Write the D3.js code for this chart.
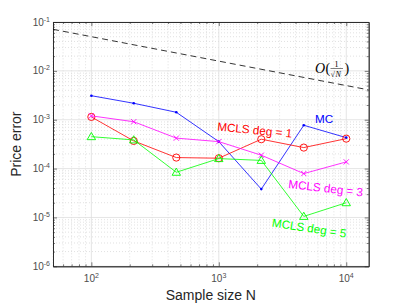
<!DOCTYPE html>
<html lang="en">
<head>
    <meta charset="utf-8">
    <title>Price error vs sample size</title>
    <script src="https://cdnjs.cloudflare.com/ajax/libs/d3/7.8.5/d3.min.js"></script>
    <style>
        html, body {margin: 0;padding: 0;background: #fff;}
        svg {display: block;font-family: "Liberation Sans", Arial, Helvetica, sans-serif;}
        .tick-label {font-size: 10px;fill: #4d4d4d;}
        .axis-title {font-size: 14px;fill: #262626;}
        .series-label {font-size: 11.7px;}
    </style>
</head>
<body>
<div id="chart"></div>
<script>
  // sample sizes (logspace 10^2 .. 10^4, 7 points)
  var sampleSizes = [100, 215, 464, 1000, 2154, 4642, 10000];

  // price error per method
  var errMC   = [3.1e-3, 2.17e-3, 1.42e-3, 3.56e-4, 3.8e-5, 7.7e-4, 4.3e-4];
  var errDeg1 = [1.14e-3, 3.68e-4, 1.68e-4, 1.63e-4, 3.99e-4, 2.69e-4, 4.1e-4];
  var errDeg3 = [1.2e-3, 9.1e-4, 4.2e-4, 3.56e-4, 1.88e-4, 7.9e-5, 1.37e-4];
  var errDeg5 = [4.5e-4, 3.86e-4, 8.4e-5, 1.6e-4, 1.47e-4, 1.05e-5, 2.0e-5];

  // O(1/sqrt(N)) reference line end points
  var refN   = [50, 15000];
  var refErr = [0.0708, 0.00408];

  var xTicks = [1e2, 1e3, 1e4];
  var xTickExp = ['2', '3', '4'];
  var yTicks = [1e-6, 1e-5, 1e-4, 1e-3, 1e-2, 1e-1];
  var yTickExp = ['-6', '-5', '-4', '-3', '-2', '-1'];

  var W = 407, H = 305;
  var m = {left: 53, right: 38.3, top: 22, bottom: 38.7};

  var svg = d3.select('#chart').append('svg')
    .attr('width', W).attr('height', H);

  var x = d3.scaleLog().domain([50, 15000]).range([m.left, W - m.right]);
  var y = d3.scaleLog().domain([1e-6, 1e-1]).range([H - m.bottom, m.top]);

  var x0 = x.range()[0], x1 = x.range()[1], y0 = y.range()[0], y1 = y.range()[1];

  // minor tick values
  var xMinor = [], yMinor = [];
  [10, 100, 1000, 10000].forEach(function (d) {
    for (var k = 2; k <= 9; k++) {
      var v = d * k;
      if (v >= 50 && v <= 15000) xMinor.push(v);
    }
  });
  yTicks.slice(0, -1).forEach(function (d) {
    for (var k = 2; k <= 9; k++) yMinor.push(d * k);
  });

  var grid = svg.append('g');
  // minor grid (dotted)
  grid.selectAll('.xm').data(xMinor).join('line')
    .attr('x1', d => x(d)).attr('x2', d => x(d)).attr('y1', y0).attr('y2', y1)
    .attr('stroke', '#cccccc').attr('stroke-width', 0.6).attr('stroke-dasharray', '1,2');
  grid.selectAll('.ym').data(yMinor).join('line')
    .attr('y1', d => y(d)).attr('y2', d => y(d)).attr('x1', x0).attr('x2', x1)
    .attr('stroke', '#cccccc').attr('stroke-width', 0.6).attr('stroke-dasharray', '1,2');
  // major grid
  grid.selectAll('.xM').data(xTicks).join('line')
    .attr('x1', d => x(d)).attr('x2', d => x(d)).attr('y1', y0).attr('y2', y1)
    .attr('stroke', '#dedede').attr('stroke-width', 0.8);
  grid.selectAll('.yM').data(yTicks).join('line')
    .attr('y1', d => y(d)).attr('y2', d => y(d)).attr('x1', x0).attr('x2', x1)
    .attr('stroke', '#dedede').attr('stroke-width', 0.8);

  // axes box with inward ticks on all four sides
  var axisColor = '#262626';
  var axes = [
    d3.axisBottom(x).tickValues(xTicks).tickSizeInner(-4).tickSizeOuter(0).tickFormat(''),
    d3.axisTop(x).tickValues(xTicks).tickSizeInner(-4).tickSizeOuter(0).tickFormat(''),
    d3.axisLeft(y).tickValues(yTicks).tickSizeInner(-4).tickSizeOuter(0).tickFormat(''),
    d3.axisRight(y).tickValues(yTicks).tickSizeInner(-4).tickSizeOuter(0).tickFormat('')
  ];
  var minorAxes = [
    d3.axisBottom(x).tickValues(xMinor).tickSizeInner(-2).tickSizeOuter(0).tickFormat(''),
    d3.axisTop(x).tickValues(xMinor).tickSizeInner(-2).tickSizeOuter(0).tickFormat(''),
    d3.axisLeft(y).tickValues(yMinor).tickSizeInner(-2).tickSizeOuter(0).tickFormat(''),
    d3.axisRight(y).tickValues(yMinor).tickSizeInner(-2).tickSizeOuter(0).tickFormat('')
  ];
  var shifts = ['0,' + y0, '0,' + y1, x0 + ',0', x1 + ',0'];
  axes.concat(minorAxes).forEach(function (ax, i) {
    var g = svg.append('g').attr('transform', 'translate(' + shifts[i % 4] + ')').call(ax);
    g.selectAll('line').attr('stroke', axisColor).attr('stroke-width', 0.6);
    g.select('.domain').attr('stroke', axisColor).attr('stroke-width', 0.8);
  });

  // tick labels with superscripts
  var xl = svg.append('g').selectAll('text').data(xTicks).join('text')
    .attr('class', 'tick-label')
    .attr('x', d => x(d)).attr('y', y0 + 15.5)
    .attr('text-anchor', 'middle');
  xl.append('tspan').text('10');
  xl.append('tspan').attr('font-size', '7px').attr('dy', -4).text((d, i) => xTickExp[i]);

  var yl = svg.append('g').selectAll('text').data(yTicks).join('text')
    .attr('class', 'tick-label')
    .attr('x', x0 - 3).attr('y', d => y(d) + 3.5)
    .attr('text-anchor', 'end');
  yl.append('tspan').text('10');
  yl.append('tspan').attr('font-size', '7px').attr('dy', -4).text((d, i) => yTickExp[i]);

  // axis titles
  svg.append('text').attr('class', 'axis-title')
    .attr('x', (x0 + x1) / 2).attr('y', 300).attr('text-anchor', 'middle')
    .text('Sample size N');
  svg.append('text').attr('class', 'axis-title')
    .attr('transform', 'translate(21,' + ((y0 + y1) / 2) + ') rotate(-90)')
    .attr('text-anchor', 'middle')
    .text('Price error');

  // clip to plot area
  svg.append('clipPath').attr('id', 'clip').append('rect')
    .attr('x', x0).attr('y', y1).attr('width', x1 - x0).attr('height', y0 - y1);
  var plot = svg.append('g').attr('clip-path', 'url(#clip)');

  var line = d3.line().x(d => x(d[0])).y(d => y(d[1]));

  // reference slope line
  plot.append('path')
    .datum(d3.zip(refN, refErr))
    .attr('d', line)
    .attr('fill', 'none').attr('stroke', '#000').attr('stroke-width', 0.8)
    .attr('stroke-dasharray', '6,4');

  var series = [
    {vals: errMC, color: '#0000ff', marker: 'dot'},
    {vals: errDeg1, color: '#ff0000', marker: 'circle'},
    {vals: errDeg3, color: '#ff00ff', marker: 'cross'},
    {vals: errDeg5, color: '#00ff00', marker: 'triangle'}
  ];

  series.forEach(function (s) {
    var pts = d3.zip(sampleSizes, s.vals);
    var g = plot.append('g');
    g.append('path').datum(pts).attr('d', line)
      .attr('fill', 'none').attr('stroke', s.color).attr('stroke-width', 0.8);
    var mk = g.selectAll('.mk').data(pts).join('g')
      .attr('transform', d => 'translate(' + x(d[0]) + ',' + y(d[1]) + ')');
    if (s.marker === 'dot') {
      mk.append('circle').attr('r', 1.3).attr('fill', s.color);
    } else if (s.marker === 'circle') {
      mk.append('circle').attr('r', 3.6).attr('fill', 'none')
        .attr('stroke', s.color).attr('stroke-width', 0.9);
    } else if (s.marker === 'cross') {
      mk.append('path').attr('d', 'M-2.6,-2.6L2.6,2.6M-2.6,2.6L2.6,-2.6')
        .attr('stroke', s.color).attr('stroke-width', 0.9);
    } else {
      mk.append('path').attr('d', 'M0,-4.2L4.2,3L-4.2,3Z').attr('fill', 'none')
        .attr('stroke', s.color).attr('stroke-width', 0.9);
    }
  });

  // series labels
  var labels = [
    {text: 'MC', color: '#0000ff', x: 315, y: 122.5, rot: 0},
    {text: 'MCLS deg = 1', color: '#ff0000', x: 217, y: 130.5, rot: 5.5},
    {text: 'MCLS deg = 3', color: '#ff00ff', x: 288, y: 188, rot: 6.5},
    {text: 'MCLS deg = 5', color: '#00ff00', x: 271.5, y: 226.5, rot: 8.5}
  ];
  svg.append('g').selectAll('text').data(labels).join('text')
    .attr('class', 'series-label')
    .attr('fill', d => d.color)
    .attr('transform', d => 'translate(' + d.x + ',' + d.y + ') rotate(' + d.rot + ')')
    .text(d => d.text);

  // O(1/sqrt(N)) annotation
  var ann = svg.append('g').attr('transform', 'translate(315,73)')
    .attr('font-family', '"Liberation Serif", "DejaVu Serif", serif').attr('fill', '#000');
  ann.append('text').attr('font-size', '14px').attr('font-style', 'italic').attr('x', 0).text('O');
  ann.append('text').attr('font-size', '14px').attr('x', 10.5).text('(');
  ann.append('text').attr('font-size', '8px').attr('x', 21.5).attr('y', -6.5).attr('text-anchor', 'middle').text('1');
  ann.append('line').attr('x1', 15.5).attr('x2', 28).attr('y1', -4.5).attr('y2', -4.5)
    .attr('stroke', '#000').attr('stroke-width', 0.5);
  ann.append('text').attr('font-size', '8px').attr('x', 15.5).attr('y', 3.5).text('\u221A');
  ann.append('text').attr('font-size', '8px').attr('font-style', 'italic').attr('x', 20.5).attr('y', 3.5).text('N');
  ann.append('text').attr('font-size', '14px').attr('x', 29.5).text(')');
</script>
</body>
</html>
